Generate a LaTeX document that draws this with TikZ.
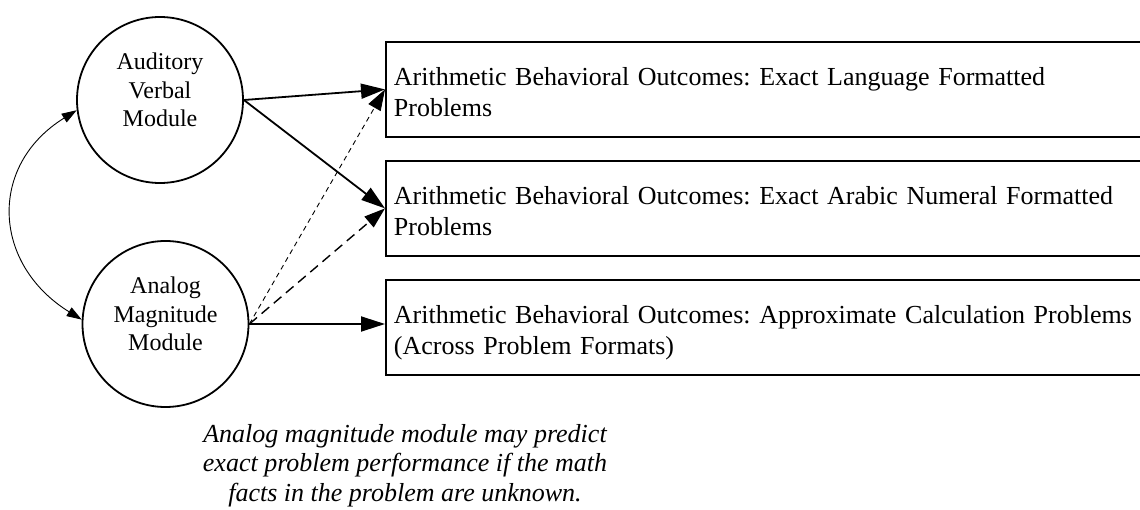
\documentclass[tikz,border=0pt]{standalone}
\usepackage{fontspec}
\setmainfont{Liberation Serif}
\usetikzlibrary{arrows.meta}
\frenchspacing
\begin{document}
\begin{tikzpicture}[x=1pt,y=-1pt,
  module/.style={circle, draw, line width=1.8pt, minimum size=166pt, inner sep=0pt},
  modtext/.style={align=center, font=\fontsize{24}{28.5}\selectfont, inner sep=0pt},
  outbox/.style={draw, line width=1.8pt, anchor=north west, minimum height=95pt,
    text width=800pt, inner xsep=8pt, inner ysep=0pt, align=left,
    font=\fontsize{26}{31}\selectfont},
  bigarrow/.style={-{Triangle[length=24pt,width=15pt]}, line width=1.8pt},
  dotarrow/.style={-{Triangle[length=21pt,width=14pt]}, line width=0.9pt, dash pattern=on 5pt off 4pt},
  dasharrow/.style={-{Triangle[length=21pt,width=14pt]}, line width=1.4pt, dash pattern=on 10pt off 6pt},
  linkarrow/.style={{Triangle[length=15pt,width=10pt]}-{Triangle[length=15pt,width=10pt]}, line width=0.9pt},
  notetext/.style={align=center, inner sep=0pt, anchor=north, font=\itshape\fontsize{26}{29.5}\selectfont}
]
\useasboundingbox (0,0) rectangle (1140,510);
\clip (0,0) rectangle (1140,510);

\node[module] (av) at (160,100) {};
\node[modtext, yshift=10pt] (avt) at (av.center) {Auditory\\Verbal\\Module};
\node[module] (am) at (165.5,324) {};
\node[modtext, yshift=10pt] (amt) at (am.center) {Analog\\Magnitude\\Module};

\node[outbox] (b1) at (385,41) {\rule{0pt}{30pt}Arithmetic Behavioral Outcomes: Exact Language Formatted\\Problems\rule[-6pt]{0pt}{6pt}};
\node[outbox] (b2) at (385,160) {\rule{0pt}{30pt}Arithmetic Behavioral Outcomes: Exact Arabic Numeral Formatted\\Problems\rule[-6pt]{0pt}{6pt}};
\node[outbox] (b3) at (385,279) {\rule{0pt}{30pt}Arithmetic Behavioral Outcomes: Approximate Calculation Problems\\(Across Problem Formats)\rule[-6pt]{0pt}{6pt}};

\node[notetext] (note) at (405,424) {Analog magnitude module may predict\\exact problem performance if the math\\facts in the problem are unknown.};

\draw[bigarrow] (av.east) -- (b1.west);
\draw[bigarrow] (av.east) -- (b2.west);
\draw[bigarrow] (am.east) -- (am.east -| b3.west);
\draw[dotarrow] (am.east) -- (b1.west);
\draw[dasharrow] (am.east) -- (b2.west);
\draw[linkarrow] (av.187) .. controls (-12.5,165.6) and (-7.5,264.4) .. (am.177);
\end{tikzpicture}
\end{document}
